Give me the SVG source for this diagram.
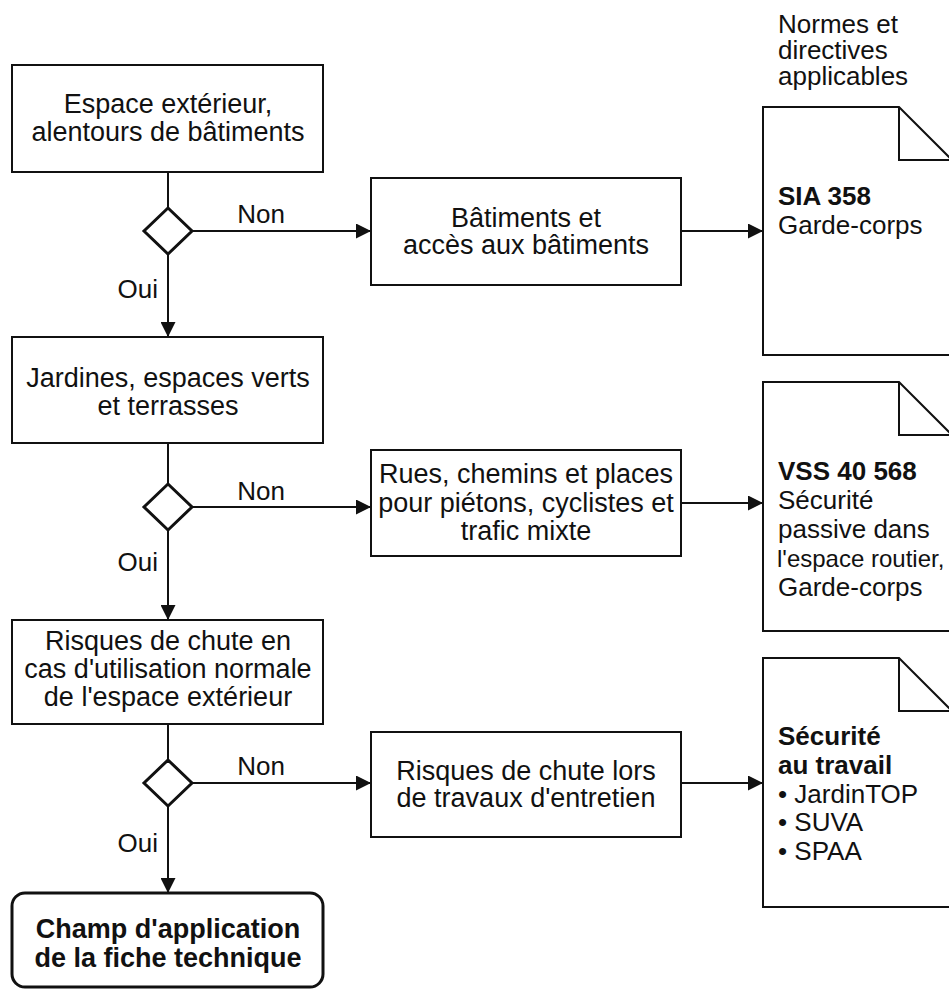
<svg xmlns="http://www.w3.org/2000/svg" width="949" height="990" viewBox="0 0 949 990">
<defs>
<marker id="ah" viewBox="0 0 15 15" refX="15" refY="7.5" markerWidth="15" markerHeight="15" markerUnits="userSpaceOnUse" orient="auto">
<path d="M0,0 L15,7.5 L0,15 Z" fill="#111"/>
</marker>
</defs>
<style>
text{font-family:"Liberation Sans",Arial,sans-serif;font-size:26px;fill:#111}
.t{font-size:27px}
.c{text-anchor:middle}
.b{font-weight:bold}
.box{fill:#fff;stroke:#111;stroke-width:2}
.dia{fill:#fff;stroke:#111;stroke-width:3}
.line{fill:none;stroke:#111;stroke-width:2}
.arr{fill:none;stroke:#111;stroke-width:2;marker-end:url(#ah)}
</style>
<rect width="949" height="990" fill="#fff"/>

<g id="connectors">
<path class="line" d="M168,172 V208"/>
<path class="arr" d="M168,254 V337"/>
<path class="arr" d="M192,231 H371"/>
<path class="arr" d="M681,231 H763"/>
<path class="line" d="M168,443 V484"/>
<path class="arr" d="M168,530 V620"/>
<path class="arr" d="M192,507 H371"/>
<path class="arr" d="M681,503 H763"/>
<path class="line" d="M168,724 V760"/>
<path class="arr" d="M168,806 V893"/>
<path class="arr" d="M192,783 H371"/>
<path class="arr" d="M681,783 H763"/>
<text x="261" y="223" class="c">Non</text>
<text x="261" y="500" class="c">Non</text>
<text x="261" y="775" class="c">Non</text>
<text x="158" y="298" text-anchor="end">Oui</text>
<text x="158" y="571" text-anchor="end">Oui</text>
<text x="158" y="852" text-anchor="end">Oui</text>
</g>

<g id="n1">
<rect class="box" x="12" y="65" width="311" height="107"/>
<text x="168" y="113" class="c t">Espace extérieur,</text>
<text x="168" y="141" class="c t">alentours de bâtiments</text>
</g>
<g id="d1"><path class="dia" d="M168,208 L192,231 L168,254 L144,231 Z"/></g>

<g id="n2">
<rect class="box" x="12" y="337" width="311" height="106"/>
<text x="168" y="387" class="c t">Jardines, espaces verts</text>
<text x="168" y="415" class="c t">et terrasses</text>
</g>
<g id="d2"><path class="dia" d="M168,484 L192,507 L168,530 L144,507 Z"/></g>

<g id="n3">
<rect class="box" x="12" y="620" width="311" height="104"/>
<text x="168" y="650" class="c t">Risques de chute en</text>
<text x="168" y="678" class="c t">cas d'utilisation normale</text>
<text x="168" y="706" class="c t">de l'espace extérieur</text>
</g>
<g id="d3"><path class="dia" d="M168,760 L192,783 L168,806 L144,783 Z"/></g>

<g id="n4">
<rect x="12" y="893" width="311" height="94" rx="13" fill="#fff" stroke="#111" stroke-width="3"/>
<text x="168" y="938" class="c b t">Champ d'application</text>
<text x="168" y="967" class="c b t">de la fiche technique</text>
</g>

<g id="s1">
<rect class="box" x="371" y="178" width="310" height="107"/>
<text x="526" y="227" class="c t">Bâtiments et</text>
<text x="526" y="254" class="c t">accès aux bâtiments</text>
</g>
<g id="s2">
<rect class="box" x="371" y="450" width="310" height="106"/>
<text x="526" y="483" class="c t">Rues, chemins et places</text>
<text x="526" y="512" class="c t">pour piétons, cyclistes et</text>
<text x="526" y="540" class="c t">trafic mixte</text>
</g>
<g id="s3">
<rect class="box" x="371" y="732" width="310" height="105"/>
<text x="526" y="780" class="c t">Risques de chute lors</text>
<text x="526" y="807" class="c t">de travaux d'entretien</text>
</g>

<g id="header">
<text x="778" y="33">Normes et</text>
<text x="778" y="59">directives</text>
<text x="778" y="85">applicables</text>
</g>

<g id="doc1">
<path class="box" d="M763,107 H899 L955,163 V355 H763 Z"/>
<path class="line" d="M899,107 V160 H955"/>
<text x="778" y="205" class="b">SIA 358</text>
<text x="778" y="234">Garde-corps</text>
</g>
<g id="doc2">
<path class="box" d="M763,382 H899 L955,438 V631 H763 Z"/>
<path class="line" d="M899,382 V435 H955"/>
<text x="778" y="480" class="b">VSS 40 568</text>
<text x="778" y="509">Sécurité</text>
<text x="778" y="538">passive dans</text>
<text x="777" y="567" style="font-size:24px">l'espace routier,</text>
<text x="778" y="596">Garde-corps</text>
</g>
<g id="doc3">
<path class="box" d="M763,658 H899 L955,714 V907 H763 Z"/>
<path class="line" d="M899,658 V711 H955"/>
<text x="778" y="745" class="b">Sécurité</text>
<text x="778" y="774" class="b">au travail</text>
<text x="778" y="803">• JardinTOP</text>
<text x="778" y="831">• SUVA</text>
<text x="778" y="860">• SPAA</text>
</g>
</svg>
